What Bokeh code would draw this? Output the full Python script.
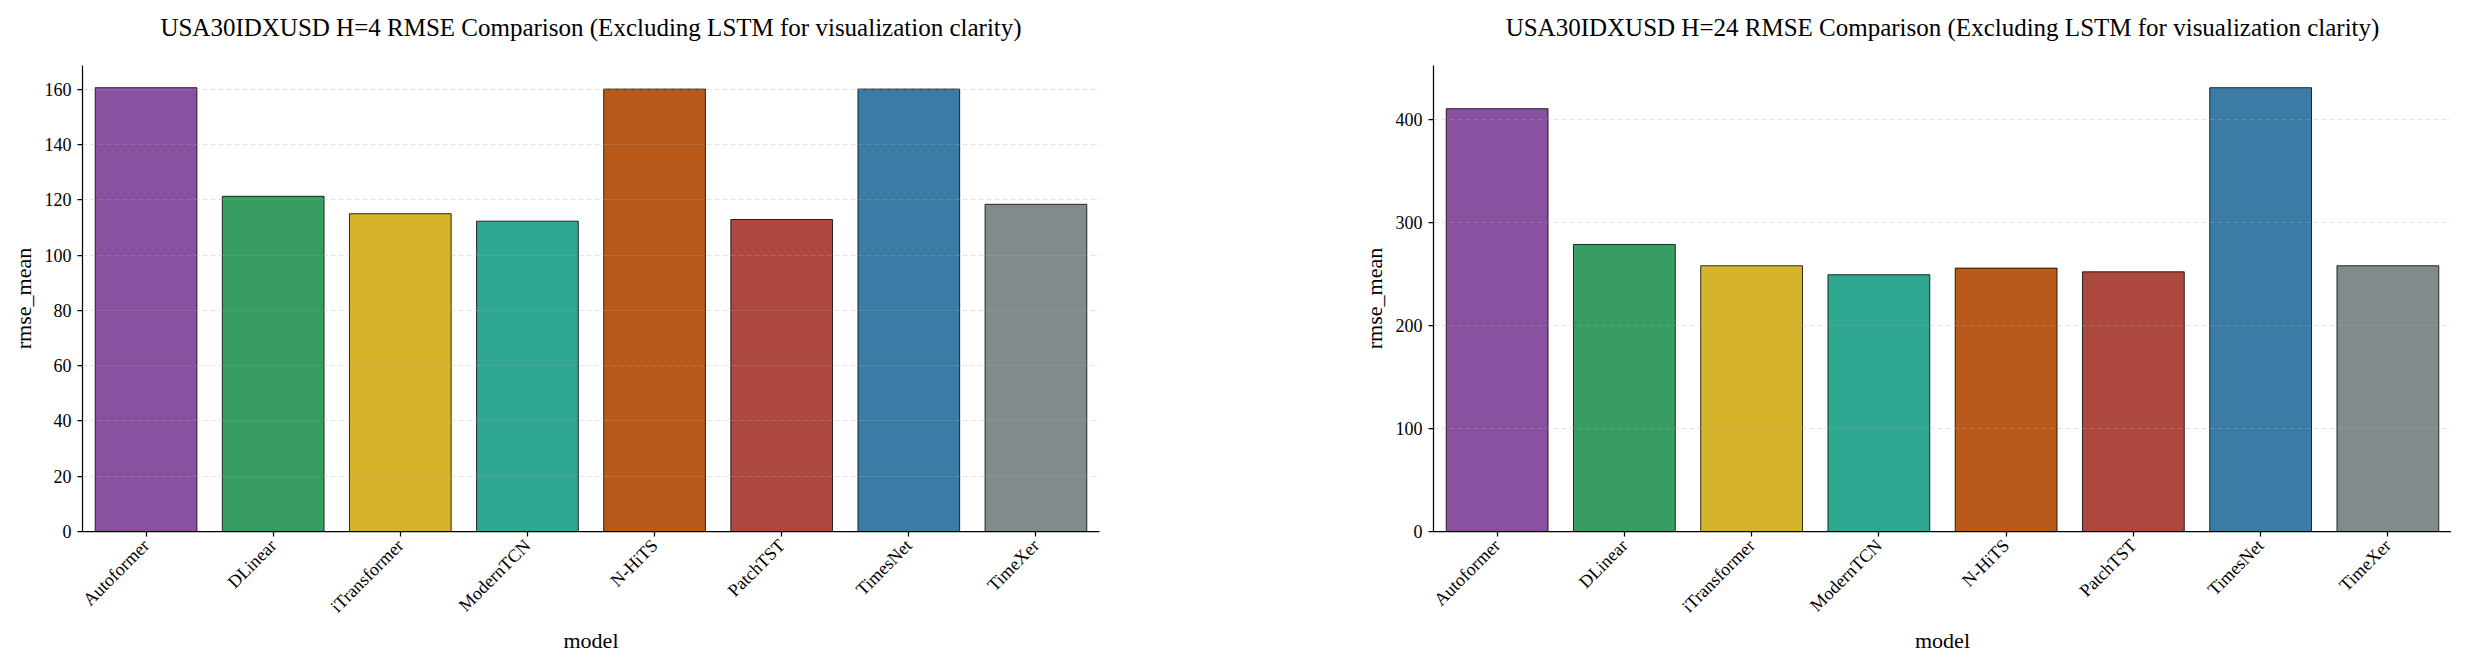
import colorsys
from math import pi
from bokeh.plotting import figure
from bokeh.layouts import row
from bokeh.models import ColumnDataSource, Range1d, FactorRange, SingleIntervalTicker, Title
from bokeh.embed import file_html
from bokeh.resources import INLINE

# ---------------- data ----------------
models = ["Autoformer", "DLinear", "iTransformer", "ModernTCN", "N-HiTS", "PatchTST", "TimesNet", "TimeXer"]
rmse_h4 = [160.6, 121.3, 115.0, 112.3, 160.1, 112.9, 160.1, 118.4]
rmse_h24 = [410.8, 278.9, 258.2, 249.5, 255.9, 252.3, 431.2, 258.2]
title_h4 = "USA30IDXUSD H=4 RMSE Comparison (Excluding LSTM for visualization clarity)"
title_h24 = "USA30IDXUSD H=24 RMSE Comparison (Excluding LSTM for visualization clarity)"
x_label = "model"
y_label = "rmse_mean"

base_colors = ["#8e44ad", "#27ae60", "#f1c40f", "#1abc9c", "#d35400", "#c0392b", "#2980b9", "#7f8c8d"]


def desaturate(hx, prop=0.75):
    r, g, b = (int(hx[i:i + 2], 16) / 255 for i in (1, 3, 5))
    h, l, s = colorsys.rgb_to_hls(r, g, b)
    r, g, b = colorsys.hls_to_rgb(h, l, s * prop)
    return "#%02x%02x%02x" % tuple(int(round(c * 255)) for c in (r, g, b))


colors = [desaturate(c) for c in base_colors]

FONT = "Liberation Serif"


def make_plot(title, values, interval, frame_w, border_left, border_right):
    src = ColumnDataSource(dict(model=models, rmse=values, color=colors))
    p = figure(
        x_range=FactorRange(*models, range_padding=0),
        y_range=Range1d(0, max(values) * 1.05),
        frame_width=frame_w, frame_height=466,
        min_border_left=border_left, min_border_right=border_right,
        min_border_top=65, min_border_bottom=120,
        output_backend="svg", toolbar_location=None,
        title=title,
    )
    p.vbar(x="model", top="rmse", width=0.8, source=src,
           fill_color="color", line_color="black", line_alpha=0.8, line_width=1)

    # spacer between the frame and the title (closest to the frame)
    p.add_layout(Title(text=" ", text_font_size="1px", standoff=22), "above")

    p.title.text_font = FONT
    p.title.text_font_size = "25px"
    p.title.text_font_style = "normal"
    p.title.align = "center"
    p.title.text_color = "black"
    p.title.standoff = 0

    p.outline_line_color = None
    p.background_fill_color = "white"
    p.border_fill_color = "white"

    p.xgrid.visible = False
    p.ygrid.grid_line_color = "#b0b0b0"
    p.ygrid.grid_line_alpha = 0.35
    p.ygrid.grid_line_dash = "5 3"
    p.ygrid.grid_line_width = 1
    p.ygrid.level = "annotation"

    p.yaxis.ticker = SingleIntervalTicker(interval=interval)
    for ax in (p.xaxis[0], p.yaxis[0]):
        ax.axis_line_color = "black"
        ax.axis_line_width = 1.25
        ax.major_tick_line_color = "black"
        ax.major_tick_line_width = 1.25
        ax.major_tick_out = 5
        ax.major_tick_in = 0
        ax.minor_tick_line_color = None
        ax.major_label_text_font = FONT
        ax.major_label_text_font_size = "18px"
        ax.major_label_text_color = "black"
        ax.major_label_standoff = 6
        ax.axis_label_text_font = FONT
        ax.axis_label_text_font_size = "22px"
        ax.axis_label_text_font_style = "normal"
        ax.axis_label_text_color = "black"
        ax.axis_label_standoff = 6
    p.xaxis.axis_label_standoff = 2
    p.xaxis.axis_label = x_label
    p.yaxis.axis_label = y_label
    p.xaxis.major_label_orientation = pi / 4
    return p


p1 = make_plot(title_h4, rmse_h4, 20, 1017, 82, 100)
p2 = make_plot(title_h24, rmse_h24, 100, 1018, 234, 0)

layout = row(p1, p2)
open("out.html", "w").write(file_html(layout, INLINE))
